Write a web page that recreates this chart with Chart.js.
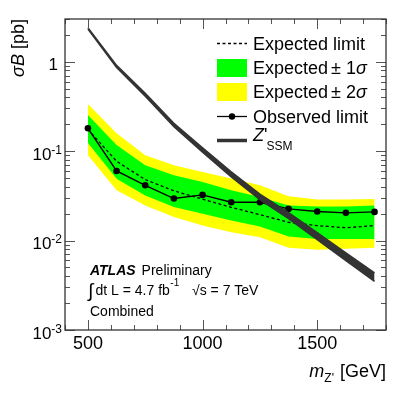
<!DOCTYPE html>
<html>
<head>
<meta charset="utf-8">
<script src="https://cdn.jsdelivr.net/npm/chart.js@4.4.0/dist/chart.umd.min.js"></script>
<style>
  body { margin: 0; background: #fff; }
  #wrap { width: 407px; height: 393px; position: relative; }
</style>
</head>
<body>
<div id="wrap"><canvas id="limitChart"></canvas></div>
<script>
// Z' -> ll limit (pb)
const masses = [500, 625, 750, 875, 1000, 1125, 1250, 1375, 1500, 1625, 1750];
const observed = [0.18, 0.060, 0.0415, 0.0295, 0.0324, 0.0268, 0.0268, 0.0226, 0.0211, 0.0204, 0.0209];
const expected = [0.175, 0.077, 0.048, 0.036, 0.029, 0.0235, 0.0195, 0.016, 0.0147, 0.0139, 0.0147];
const oneSigUp = [0.254, 0.117, 0.0696, 0.0537, 0.0452, 0.0365, 0.0307, 0.0247, 0.0241, 0.0241, 0.0247];
const oneSigDn = [0.123, 0.049, 0.032, 0.0237, 0.020, 0.0168, 0.0144, 0.0111, 0.0104, 0.0104, 0.0104];
const twoSigUp = [0.337, 0.158, 0.090, 0.0696, 0.0586, 0.0493, 0.0415, 0.0312, 0.0287, 0.0287, 0.0291];
const twoSigDn = [0.090, 0.0365, 0.0247, 0.0183, 0.0147, 0.0124, 0.0109, 0.0083, 0.0079, 0.0081, 0.0083];
const zssmUp = [2.40, 0.91, 0.443, 0.205, 0.109, 0.0587, 0.033, 0.0205, 0.01225, 0.00729, 0.00435];
const zssmDn = [2.31, 0.862, 0.41, 0.187, 0.097, 0.0515, 0.0286, 0.0176, 0.01024, 0.00598, 0.00349];

const xTickValues = [500, 1000, 1500];
const xTickLabels = ['500', '1000', '1500'];
const yTickValues = [1, 0.1, 0.01, 0.001];
const yTickLabels = [['1', ''], ['10', '-1'], ['10', '-2'], ['10', '-3']];

const FONT = '"Liberation Sans", Arial, Helvetica, sans-serif';

function pts(vals) {
  return masses.map((m, i) => ({ x: m, y: vals[i] }));
}

function band(vals, color, target) {
  return { data: pts(vals), borderColor: 'rgba(0,0,0,0)', borderWidth: 1, backgroundColor: color,
           fill: target, pointRadius: 0, tension: 0 };
}

// draw a list of text pieces left to right, returns end x
function runs(ctx, x, y, list) {
  list.forEach(r => {
    ctx.font = r.f;
    ctx.fillText(r.t, x, y + (r.dy || 0));
    x += ctx.measureText(r.t).width + (r.gap || 0);
  });
  return x;
}

const atlasDecor = {
  id: 'atlasDecor',
  afterDatasetsDraw(chart) {
    const ctx = chart.ctx, xs = chart.scales.x, ys = chart.scales.y, a = chart.chartArea;
    ctx.save();
    ctx.strokeStyle = '#555';
    ctx.lineWidth = 1;
    // ticks inside the frame
    ctx.beginPath();
    for (let m = 400; m <= 1800; m += 100) {
      const px = Math.round(xs.getPixelForValue(m)) + 0.5;
      const len = (m % 500 === 0) ? 10 : 5;
      ctx.moveTo(px, a.bottom); ctx.lineTo(px, a.bottom - len);
      ctx.moveTo(px, a.top); ctx.lineTo(px, a.top + len);
    }
    for (let e = -3; e <= 0; e++) {
      for (let k = 1; k <= 9; k++) {
        const v = k * Math.pow(10, e);
        if (v > 3) break;
        const py = Math.round(ys.getPixelForValue(v)) + 0.5;
        const len = (k === 1) ? 10 : 5;
        ctx.moveTo(a.left, py); ctx.lineTo(a.left + len, py);
        ctx.moveTo(a.right, py); ctx.lineTo(a.right - len, py);
      }
    }
    ctx.stroke();
    ctx.strokeStyle = '#333';
    ctx.lineWidth = 1.3;
    ctx.strokeRect(a.left, a.top, a.right - a.left, a.bottom - a.top);
    ctx.restore();
  },
  afterDraw(chart) {
    const ctx = chart.ctx, xs = chart.scales.x, ys = chart.scales.y, a = chart.chartArea;
    ctx.save();
    ctx.fillStyle = '#000';
    ctx.textBaseline = 'alphabetic';

    // x tick labels
    ctx.font = '18px ' + FONT;
    ctx.textAlign = 'center';
    xTickValues.forEach((v, i) => ctx.fillText(xTickLabels[i], xs.getPixelForValue(v), 348.5));

    // y tick labels with exponents
    yTickValues.forEach((v, i) => {
      const py = ys.getPixelForValue(v);
      const [base, exp] = yTickLabels[i];
      if (!exp) {
        ctx.font = '17px ' + FONT;
        ctx.textAlign = 'right';
        ctx.fillText(base, 58, py + 8.5);
        return;
      }
      ctx.font = '12px ' + FONT;
      const we = ctx.measureText(exp).width;
      ctx.textAlign = 'left';
      ctx.fillText(exp, 62 - we, py + 2.5);
      ctx.font = '17px ' + FONT;
      ctx.textAlign = 'right';
      ctx.fillText(base, 62 - we, py + 8.5);
    });

    // x title
    ctx.textAlign = 'left';
    ctx.font = '18px ' + FONT;
    const wG = ctx.measureText('[GeV]').width;
    ctx.font = '12px ' + FONT;
    const wZ = ctx.measureText("Z'").width;
    ctx.font = 'italic 18px ' + FONT;
    const wM = ctx.measureText('m').width;
    const gx = a.right - wG;
    runs(ctx, gx - 6 - wZ - wM, 376.5, [
      { t: 'm', f: 'italic 18px ' + FONT },
      { t: "Z'", f: '12px ' + FONT, dy: 5.5, gap: 6 },
      { t: '[GeV]', f: '18px ' + FONT }
    ]);

    // y title, rotated
    ctx.save();
    ctx.translate(24, a.top);
    ctx.rotate(-Math.PI / 2);
    ctx.font = '18px ' + FONT;
    const wPb = ctx.measureText(' [pb]').width;
    ctx.font = 'italic 18px ' + FONT;
    const wSB = ctx.measureText('\u03c3B').width;
    runs(ctx, -(wPb + wSB), 0, [
      { t: '\u03c3B', f: 'italic 18px ' + FONT },
      { t: ' [pb]', f: '18px ' + FONT }
    ]);
    ctx.restore();

    // legend
    const lx0 = 217, lx1 = 247, tx = 253;
    ctx.strokeStyle = '#000';
    ctx.lineWidth = 1.3;
    ctx.setLineDash([3, 2.5]);
    ctx.beginPath(); ctx.moveTo(lx0, 43.5); ctx.lineTo(lx1, 43.5); ctx.stroke();
    ctx.setLineDash([]);
    ctx.fillStyle = '#00ff00'; ctx.fillRect(lx0, 59, lx1 - lx0, 18);
    ctx.fillStyle = '#ffff00'; ctx.fillRect(lx0, 83, lx1 - lx0, 18);
    ctx.fillStyle = '#000';
    ctx.beginPath(); ctx.moveTo(lx0, 116.5); ctx.lineTo(lx1, 116.5); ctx.stroke();
    ctx.beginPath(); ctx.arc(232, 116.5, 3.2, 0, Math.PI * 2); ctx.fill();
    ctx.strokeStyle = '#333'; ctx.lineWidth = 3.5;
    ctx.beginPath(); ctx.moveTo(lx0, 140.5); ctx.lineTo(lx1, 140.5); ctx.stroke();

    const F18 = '18px ' + FONT, I18 = 'italic 18px ' + FONT;
    runs(ctx, tx, 49.5, [{ t: 'Expected limit', f: F18 }]);
    runs(ctx, tx, 74, [{ t: 'Expected', f: F18, gap: 3 }, { t: '\u00b1 1', f: F18 }, { t: '\u03c3', f: I18 }]);
    runs(ctx, tx, 98, [{ t: 'Expected', f: F18, gap: 3 }, { t: '\u00b1 2', f: F18 }, { t: '\u03c3', f: I18 }]);
    runs(ctx, tx, 123, [{ t: 'Observed limit', f: F18 }]);
    runs(ctx, tx, 140.5, [{ t: 'Z', f: I18 }, { t: "'", f: F18, gap: -1 }, { t: 'SSM', f: '12px ' + FONT, dy: 9 }]);

    // ATLAS label
    runs(ctx, 90, 274.5, [{ t: 'ATLAS', f: 'italic bold 14px ' + FONT, gap: 6 }, { t: 'Preliminary', f: '14px ' + FONT }]);
    ctx.font = '19px ' + FONT;
    ctx.fillText('\u222b', 88, 297);
    let ex = runs(ctx, 95.5, 294.5, [{ t: 'dt L = 4.7 fb', f: '14px ' + FONT }]);
    runs(ctx, ex + 0.5, 286, [{ t: '-1', f: '10px ' + FONT }]);
    runs(ctx, 192, 294.5, [{ t: '\u221a', f: '14px ' + FONT }, { t: 's = 7 TeV', f: '14px ' + FONT }]);
    runs(ctx, 90, 315.5, [{ t: 'Combined', f: '14px ' + FONT }]);
    ctx.restore();
  }
};

new Chart(document.getElementById('limitChart').getContext('2d'), {
  type: 'line',
  data: {
    datasets: [
      { data: pts(zssmUp), borderColor: '#333', borderWidth: 1.5, backgroundColor: '#333', fill: 1, pointRadius: 0, tension: 0 },
      { data: pts(zssmDn), borderColor: '#333', borderWidth: 1.5, fill: false, pointRadius: 0, tension: 0 },
      { data: pts(observed), borderColor: '#000', borderWidth: 1.4, fill: false, tension: 0,
        pointRadius: 3.3, pointBackgroundColor: '#000', pointBorderWidth: 0 },
      { data: pts(expected), borderColor: '#000', borderWidth: 1.3, borderDash: [3, 2.5], fill: false, pointRadius: 0, tension: 0 },
      band(oneSigUp, '#00ff00', 5),
      band(oneSigDn, 'rgba(0,0,0,0)', false),
      band(twoSigUp, '#ffff00', 7),
      band(twoSigDn, 'rgba(0,0,0,0)', false)
    ]
  },
  options: {
    responsive: true,
    maintainAspectRatio: false,
    animation: false,
    layout: { padding: { left: 65, right: 21, top: 19, bottom: 63 } },
    scales: {
      x: { type: 'linear', min: 400, max: 1800, display: false },
      y: { type: 'logarithmic', min: 0.001, max: 3, display: false }
    },
    plugins: { legend: { display: false }, tooltip: { enabled: false } }
  },
  plugins: [atlasDecor]
});
</script>
</body>
</html>
